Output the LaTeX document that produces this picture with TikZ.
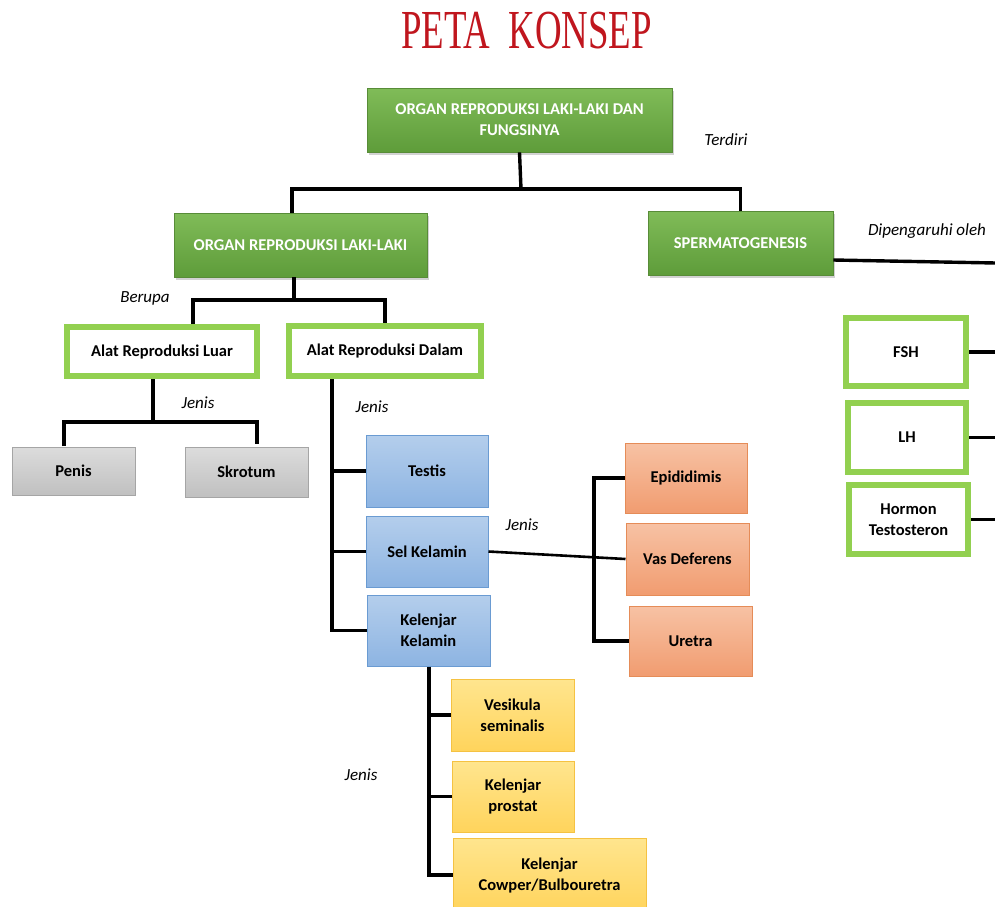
\documentclass[tikz,border=0pt]{standalone}
\usepackage{fontspec}
\setmainfont{Carlito}
\newfontfamily\titlefont{Liberation Serif}
\usetikzlibrary{calc,shadows}
\definecolor{titlered}{RGB}{192,22,30}
\definecolor{gtop}{RGB}{128,188,88}
\definecolor{gbot}{RGB}{94,156,58}
\definecolor{gedge}{RGB}{88,140,56}
\definecolor{lgreen}{RGB}{146,208,80}
\definecolor{graytop}{RGB}{220,220,220}
\definecolor{graybot}{RGB}{192,192,192}
\definecolor{grayedge}{RGB}{165,165,165}
\definecolor{btop}{RGB}{180,206,236}
\definecolor{bbot}{RGB}{141,180,226}
\definecolor{bedge}{RGB}{106,155,210}
\definecolor{otop}{RGB}{247,194,164}
\definecolor{obot}{RGB}{241,156,112}
\definecolor{oedge}{RGB}{229,140,88}
\definecolor{ytop}{RGB}{255,229,142}
\definecolor{ybot}{RGB}{255,212,92}
\definecolor{yedge}{RGB}{245,194,66}
\begin{document}
\begin{tikzpicture}[x=1pt,y=-1pt,
  box/.style={inner sep=0pt,align=center,font=\fontsize{16.5}{21}\selectfont\bfseries},
  greenbox/.style={box,draw=gedge,line width=0.8pt,top color=gtop,bottom color=gbot,text=white,
     drop shadow={opacity=0.35,shadow xshift=2pt,shadow yshift=-3pt}},
  framebox/.style={box,draw=lgreen,line width=6pt,fill=white,text=black},
  graybox/.style={box,draw=grayedge,line width=1pt,top color=graytop,bottom color=graybot},
  bluebox/.style={box,draw=bedge,line width=1pt,top color=btop,bottom color=bbot},
  orangebox/.style={box,draw=oedge,line width=1pt,top color=otop,bottom color=obot},
  yellowbox/.style={box,draw=yedge,line width=1pt,top color=ytop,bottom color=ybot},
  conn/.style={draw=black,line width=3.4pt},
  lab/.style={inner sep=0pt,font=\fontsize{17}{20}\selectfont\itshape}]
\useasboundingbox (0,0) rectangle (995,906);
\fill[white] (0,0) rectangle (995,906);

\node[text=titlered,font=\titlefont\fontsize{55}{60}\selectfont,xscale=0.67,inner sep=0pt] (title) at (526.5,31) {PETA\ \ KONSEP};

\node[greenbox,minimum width=305pt,minimum height=64pt] (root) at (519.5,120) {ORGAN REPRODUKSI LAKI-LAKI DAN\\FUNGSINYA};
\node[greenbox,minimum width=253pt,minimum height=64pt] (orl) at (300.5,245) {ORGAN REPRODUKSI LAKI-LAKI};
\node[greenbox,minimum width=185pt,minimum height=64pt] (sperm) at (740.5,243) {SPERMATOGENESIS};

\node[framebox,minimum width=190pt,minimum height=49pt] (luar) at (162,351.5) {Alat Reproduksi Luar};
\node[framebox,minimum width=192pt,minimum height=50pt] (dalam) at (385,351) {Alat Reproduksi Dalam};

\node[graybox,minimum width=123pt,minimum height=48pt] (penis) at (73.5,471) {Penis};
\node[graybox,minimum width=123pt,minimum height=50pt] (skrotum) at (246.5,472) {Skrotum};

\node[bluebox,minimum width=122pt,minimum height=72pt] (testis) at (427,471) {Testis};
\node[bluebox,minimum width=122pt,minimum height=71pt] (sel) at (427,551.5) {Sel Kelamin};
\node[bluebox,minimum width=123pt,minimum height=71pt] (kk) at (428.5,630.5) {Kelenjar\\Kelamin};

\node[orangebox,minimum width=122pt,minimum height=70pt] (epi) at (686,478) {Epididimis};
\node[orangebox,minimum width=123pt,minimum height=72pt] (vas) at (687.5,559) {Vas Deferens};
\node[orangebox,minimum width=123pt,minimum height=70pt] (uretra) at (690.5,641) {Uretra};

\node[yellowbox,minimum width=123pt,minimum height=72pt] (vesikula) at (512.5,715) {Vesikula\\seminalis};
\node[yellowbox,minimum width=122pt,minimum height=71pt] (prostat) at (513,796.5) {Kelenjar\\prostat};
\node[yellowbox,minimum width=193pt,minimum height=74pt] (cowper) at (549.5,875) {Kelenjar\\Cowper/Bulbouretra};

\node[framebox,minimum width=120pt,minimum height=68pt] (fsh) at (906,352) {FSH};
\node[framebox,minimum width=118pt,minimum height=69pt] (lh) at (907,437.5) {LH};
\node[framebox,minimum width=119pt,minimum height=69pt] (hormon) at (908.5,519.5) {Hormon\\Testosteron};

% labels
\node[lab] (lterdiri) at (726,140) {Terdiri};
\node[lab] (ldipeng) at (927,231) {Dipengaruhi oleh};
\node[lab] (lberupa) at (145,298) {Berupa};
\node[lab] (ljenis1) at (198,403) {Jenis};
\node[lab] (ljenis2) at (372,407) {Jenis};
\node[lab] (ljenis3) at (522,525) {Jenis};
\node[lab] (ljenis4) at (361,775) {Jenis};

% connectors
\coordinate (j1) at (521,189);
\coordinate (orlin) at (292,213);
\draw[conn] (root.south) -- (j1);
\draw[conn] (orlin) -- (orlin |- j1) -- (sperm.north |- j1) -- (sperm.north);

\coordinate (j2) at (294,300);
\coordinate (luarin) at (193,324);
\draw[conn] (orl.south -| j2) -- (j2);
\draw[conn] (luarin) -- (luarin |- j2) -- (dalam.north |- j2) -- (dalam.north);

\coordinate (j3) at (153,422);
\coordinate (penisin) at (64,446);
\coordinate (skrotin) at (257,444);
\draw[conn] (luar.south -| j3) -- (j3);
\draw[conn] (penisin) -- (penisin |- j3) -- (skrotin |- j3) -- (skrotin);

\coordinate (d0) at (332,379);
\draw[conn] (d0 |- dalam.south) -- (d0 |- kk.west) -- (kk.west);
\draw[conn] (d0 |- testis.west) -- (testis.west);
\draw[conn] (d0 |- sel.west) -- (sel.west);

\draw[line width=2.6pt] (sel.east) -- (vas.west);

\coordinate (o1) at (594,478);
\draw[conn] (epi.west) -- (epi.west -| o1) -- (o1 |- uretra.west) -- (uretra.west);

\coordinate (k0) at (429,666);
\draw[conn] (k0 |- kk.south) -- (k0 |- cowper.west) -- (cowper.west);
\draw[conn] (k0 |- vesikula.west) -- (vesikula.west);
\draw[conn] (k0 |- prostat.west) -- (prostat.west);

\coordinate (s1) at (996,263);
\draw[conn] ($(sperm.east)+(0,17)$) -- (s1);
\coordinate (eR) at (996,0);
\draw[conn] (fsh.east) -- (fsh.east -| eR);
\draw[conn] (lh.east) -- (lh.east -| eR);
\draw[conn] (hormon.east) -- (hormon.east -| eR);
\end{tikzpicture}
\end{document}
